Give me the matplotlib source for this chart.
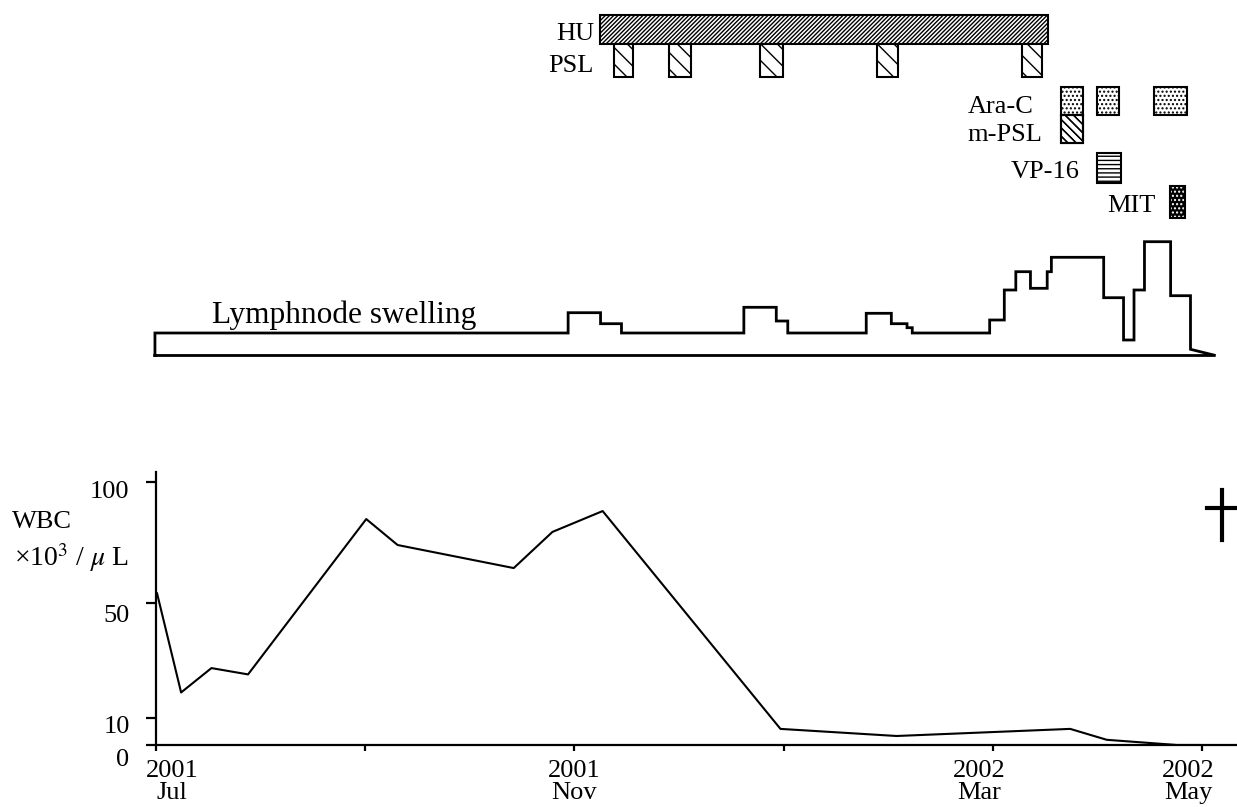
import numpy as np
import matplotlib
matplotlib.use("Agg")
import matplotlib.pyplot as plt
import matplotlib.transforms as mtransforms
from matplotlib.patches import Rectangle
from matplotlib.lines import Line2D

plt.rcParams['font.family'] = ['Liberation Serif', 'DejaVu Serif']
plt.rcParams['mathtext.fontset'] = 'stix'
plt.rcParams['hatch.linewidth'] = 1.0

W, H = 1237, 807

# months since 1 Jul 2001
wbc_t = [0.01, 0.24, 0.53, 0.88, 2.01, 2.31, 3.42, 3.79, 4.27, 5.97, 7.08, 8.74, 9.09, 9.76, 9.98]
wbc = [54, 18.8, 27.3, 25.1, 84.6, 73.9, 64.4, 79.3, 87.9, 5.9, 3.3, 5.9, 1.9, 0, 0]

# lymph node swelling (relative size), step changes
lymph_t = [-0.01, 3.94, 4.25, 4.45, 5.62, 5.93, 6.04, 6.79, 7.03, 7.18, 7.23,
           7.97, 8.11, 8.22, 8.36, 8.52, 8.56, 9.06, 9.25, 9.35, 9.45, 9.70, 9.89]
lymph_size = [22.5, 42.8, 31.8, 22.5, 48.2, 34.5, 22.5, 42.2, 31.8, 27.8, 22.5,
              35.5, 65.5, 83.8, 67.2, 83.8, 98.2, 57.8, 15.5, 65.5, 113.8, 59.8, 6.2]
lymph_end = 10.13

# treatments: (start, end) in months
hu = [(4.24, 8.53)]
psl = [(4.38, 4.56), (4.90, 5.11), (5.77, 5.99), (6.89, 7.09), (8.28, 8.47)]
arac = [(8.65, 8.86), (9.00, 9.21), (9.54, 9.86)]
mpsl = [(8.65, 8.86)]
vp16 = [(9.00, 9.23)]
mit = [(9.69, 9.84)]

xticks = [0, 2, 4, 6, 8, 10]
xlabels = ['2001\nJul', '', '2001\nNov', '', '2002\nMar', '2002\nMay']
yticks = [0, 10, 50, 100]
ylabels = ['0', '10', '50', '100']

scale_v = [0, 10, 50, 100, 200]
scale_p = [0, 27.3, 142, 263.3, 505.9]


def fwd(v):
    return np.interp(v, scale_v, scale_p)


def inv(p):
    return np.interp(p, scale_p, scale_v)


def fx(px):
    return px / W


def fy(py):
    return 1 - py / H


fig = plt.figure(figsize=(W / 100, H / 100), dpi=100)
XMAX = (W - 156) / 104.6

# ---- WBC panel
ax = fig.add_axes([fx(156), 62 / H, (W - 156) / W, 273 / H])
ax.set_yscale('function', functions=(fwd, inv))
ax.plot(wbc_t, wbc, color='black', lw=1.5)
ax.set_xlim(0, XMAX)
ax.set_ylim(0, 104)
for s in ['top', 'right']:
    ax.spines[s].set_visible(False)
for s in ['left', 'bottom']:
    ax.spines[s].set_linewidth(1.6)
ax.set_xticks(xticks)
ax.set_xticklabels(xlabels, fontsize=19, linespacing=1.0)
ax.set_yticks(yticks)
ax.set_yticklabels(ylabels, fontsize=19)
ax.tick_params(axis='x', length=4.5, width=1.6, pad=6)
ax.tick_params(axis='y', length=7, width=1.6, pad=12)
ax.yaxis.set_minor_locator(matplotlib.ticker.NullLocator())

for lab, dx in zip(ax.get_xticklabels(), [16, 0, 0, 0, -14, -14]):
    lab.set_transform(lab.get_transform() + mtransforms.ScaledTranslation(dx / 100, 0, fig.dpi_scale_trans))
for lab, dy in zip(ax.get_yticklabels(), [-13, -7, -10, -8]):
    lab.set_transform(lab.get_transform() + mtransforms.ScaledTranslation(0, dy / 100, fig.dpi_scale_trans))

fig.text(fx(12), fy(522), 'WBC', fontsize=19, va='center', ha='left')
fig.text(fx(14), fy(558), r'×10$^{3}$ / $\mu$ L', fontsize=20, va='center', ha='left')

# death cross
fig.add_artist(Line2D([fx(1221.5), fx(1221.5)], [fy(490), fy(540)], color='black', lw=3))
fig.add_artist(Line2D([fx(1207), fx(1237)], [fy(508), fy(508)], color='black', lw=3))

# ---- top panel (treatments + lymph node)
top = fig.add_axes([fx(156), fy(380), (W - 156) / W, 380 / H])
top.set_xlim(0, XMAX)
top.set_ylim(-24.5, 355.5)
top.axis('off')

xs = [lymph_t[0], lymph_t[0]]
ys = [0, lymph_size[0]]
for i in range(1, len(lymph_t)):
    xs += [lymph_t[i], lymph_t[i]]
    ys += [lymph_size[i - 1], lymph_size[i]]
xs += [lymph_end, lymph_t[0]]
ys += [0, 0]
top.plot(xs, ys, color='black', lw=2, solid_joinstyle='miter', clip_on=False)
fig.text(fx(212), fy(323), 'Lymphnode swelling', fontsize=22.6, va='baseline', ha='left')


def bars(spans, y0, y1, hatch, face='white', hcol='black', lw=1.5):
    for a, b in spans:
        top.add_patch(Rectangle((a, y0), b - a, y1 - y0, facecolor=face,
                                edgecolor=hcol, hatch=hatch, lw=0, clip_on=False))
        top.add_patch(Rectangle((a, y0), b - a, y1 - y0, facecolor='none',
                                edgecolor='black', lw=lw, clip_on=False))


bars(hu, 311.5, 340.5, '////////')
bars(psl, 278.5, 311.5, '\\\\')
bars(arac, 240.5, 268.5, '....')
bars(mpsl, 212.5, 240.5, '\\\\\\\\')
bars(mpsl, 212.5, 240.5, '\\\\\\\\', face='none')
bars(vp16, 172.5, 202.5, '----')
bars(mit, 137.5, 169.5, '....', face='black', hcol='white')

fig.text(fx(594), fy(34), 'HU', fontsize=19, va='center', ha='right')
fig.text(fx(594), fy(66), 'PSL', fontsize=19, va='center', ha='right')
fig.text(fx(1034), fy(107), 'Ara-C', fontsize=19, va='center', ha='right')
fig.text(fx(1042), fy(135), 'm-PSL', fontsize=19, va='center', ha='right')
fig.text(fx(1080), fy(172), 'VP-16', fontsize=19, va='center', ha='right')
fig.text(fx(1156), fy(206), 'MIT', fontsize=19, va='center', ha='right')

fig.savefig('out.png', dpi=100)
